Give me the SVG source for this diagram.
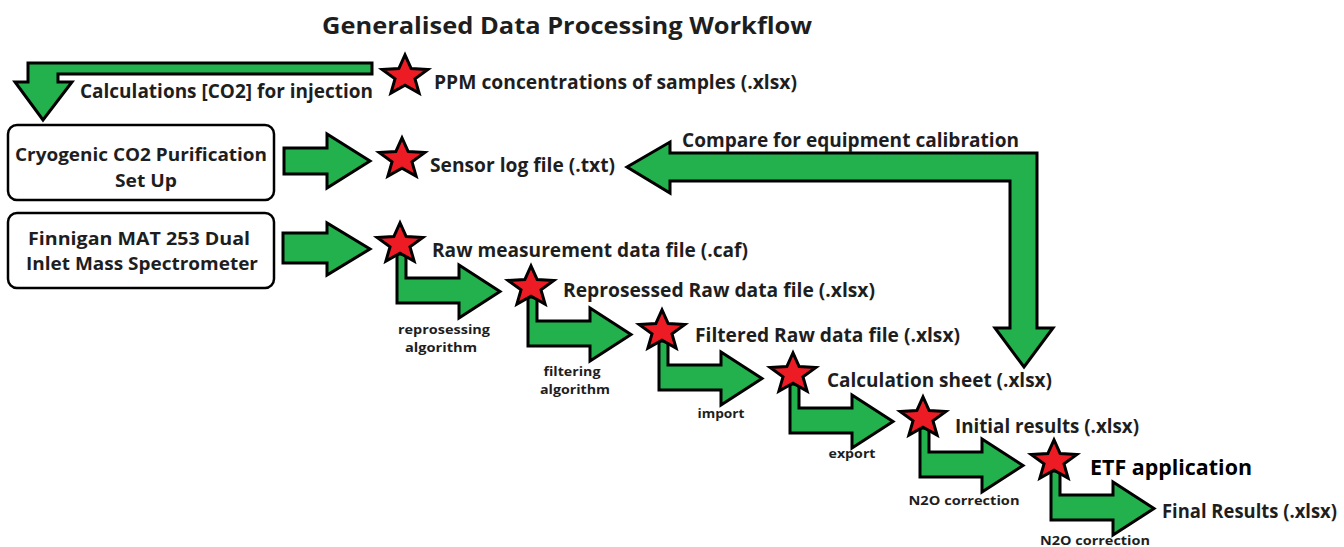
<svg xmlns="http://www.w3.org/2000/svg" xmlns:xlink="http://www.w3.org/1999/xlink" width="1344" height="547" viewBox="0 0 1344 547">
<style>
text{font-family:"Open Sans","Noto Sans","Liberation Sans",sans-serif;font-weight:bold;fill:#1e1e1e}
.title{font-size:23px}
.lbl{font-size:19px}
.box{font-size:18.5px}
.sm{font-size:12.5px}
.etf{font-size:20.5px;fill:#000}
.arr{fill:#22b14c;stroke:#000;stroke-width:3;stroke-linejoin:miter}
.star{fill:#ed1c24;stroke:#000;stroke-width:3;stroke-linejoin:miter}
.nodebox{fill:#fff;stroke:#000;stroke-width:2.5}
</style>
<defs>
<path id="star" class="star" d="M0,-21.1 L6.17,-7.47 L22.83,-6.53 L9.99,2.85 L14.11,17.09 L0,9.24 L-14.11,17.09 L-9.99,2.85 L-22.83,-6.53 L-6.17,-7.47 Z"/>
</defs>
<rect width="1344" height="547" fill="#fff"/>
<text class="title" x="322" y="34" textLength="490" lengthAdjust="spacingAndGlyphs">Generalised Data Processing Workflow</text>

<g id="connectors">
<path class="arr" d="M372,63 H28 V82 H15 L43,120 L72,82 H58 V74 H372 Z"/>
<path class="arr" d="M284,148 H327 V134 L370,161 L327,188 V174 H284 Z"/>
<path class="arr" d="M283,233 H327 V223 L370,249 L327,275 V263 H283 Z"/>
<path class="arr" d="M397,254 V303 H459 V318 L500,291.5 L459,265 V278 H406 V254 Z"/>
<path class="arr" d="M528,297 V346 H590 V361 L631,334.5 L590,308 V321 H537 V297 Z"/>
<path class="arr" d="M659,341 V390 H721 V405 L762,378.5 L721,352 V365 H668 V341 Z"/>
<path class="arr" d="M790,384 V433 H852 V448 L893,421.5 L852,395 V408 H799 V384 Z"/>
<path class="arr" d="M920,428 V477 H982 V492 L1023,465.5 L982,439 V452 H929 V428 Z"/>
<path class="arr" d="M1051,471 V520 H1113 V535 L1154,508.5 L1113,482 V495 H1060 V471 Z"/>
<path class="arr" d="M627,167 L670,142 V153 H1037 V328 H1053 L1024,367 L995,328 H1010 V181 H670 V193 Z"/>
<text class="lbl" x="80" y="98" textLength="293" lengthAdjust="spacingAndGlyphs">Calculations [CO2] for injection</text>
<text class="lbl" x="682" y="147" textLength="337" lengthAdjust="spacingAndGlyphs">Compare for equipment calibration</text>
<text class="sm" x="444" y="334" text-anchor="middle" textLength="92" lengthAdjust="spacingAndGlyphs">reprosessing</text>
<text class="sm" x="441" y="352" text-anchor="middle" textLength="72" lengthAdjust="spacingAndGlyphs">algorithm</text>
<text class="sm" x="572" y="376" text-anchor="middle" textLength="57" lengthAdjust="spacingAndGlyphs">filtering</text>
<text class="sm" x="575" y="394" text-anchor="middle" textLength="70" lengthAdjust="spacingAndGlyphs">algorithm</text>
<text class="sm" x="721" y="418" text-anchor="middle" textLength="47" lengthAdjust="spacingAndGlyphs">import</text>
<text class="sm" x="852" y="458" text-anchor="middle" textLength="47" lengthAdjust="spacingAndGlyphs">export</text>
<text class="sm" x="964" y="505" text-anchor="middle" textLength="111" lengthAdjust="spacingAndGlyphs">N2O correction</text>
<text class="sm" x="1095" y="545" text-anchor="middle" textLength="110" lengthAdjust="spacingAndGlyphs">N2O correction</text>
</g>

<g id="node-cryo">
<rect class="nodebox" x="8" y="125" width="266" height="75" rx="9"/>
<text class="box" x="141" y="161" text-anchor="middle" textLength="252" lengthAdjust="spacingAndGlyphs">Cryogenic CO2 Purification</text>
<text class="box" x="146" y="187" text-anchor="middle" textLength="62" lengthAdjust="spacingAndGlyphs">Set Up</text>
</g>
<g id="node-finnigan">
<rect class="nodebox" x="8" y="213" width="266" height="75" rx="9"/>
<text class="box" x="139" y="245" text-anchor="middle" textLength="222" lengthAdjust="spacingAndGlyphs">Finnigan MAT 253 Dual</text>
<text class="box" x="142" y="270" text-anchor="middle" textLength="232" lengthAdjust="spacingAndGlyphs">Inlet Mass Spectrometer</text>
</g>
<g id="node-ppm">
<use xlink:href="#star" href="#star" transform="translate(405,76)"/>
<text class="lbl" x="434" y="89" textLength="363" lengthAdjust="spacingAndGlyphs">PPM concentrations of samples (.xlsx)</text>
</g>
<g id="node-sensor">
<use xlink:href="#star" href="#star" transform="translate(402,159)"/>
<text class="lbl" x="430" y="172" textLength="185" lengthAdjust="spacingAndGlyphs">Sensor log file (.txt)</text>
</g>
<g id="node-raw">
<use xlink:href="#star" href="#star" transform="translate(400,244)"/>
<text class="lbl" x="432" y="257" textLength="316" lengthAdjust="spacingAndGlyphs">Raw measurement data file (.caf)</text>
</g>
<g id="node-reprocessed">
<use xlink:href="#star" href="#star" transform="translate(531,287)"/>
<text class="lbl" x="563" y="297" textLength="312" lengthAdjust="spacingAndGlyphs">Reprosessed Raw data file (.xlsx)</text>
</g>
<g id="node-filtered">
<use xlink:href="#star" href="#star" transform="translate(662,331)"/>
<text class="lbl" x="695" y="342" textLength="265" lengthAdjust="spacingAndGlyphs">Filtered Raw data file (.xlsx)</text>
</g>
<g id="node-calc">
<use xlink:href="#star" href="#star" transform="translate(793,374)"/>
<text class="lbl" x="827" y="387" textLength="225" lengthAdjust="spacingAndGlyphs">Calculation sheet (.xlsx)</text>
</g>
<g id="node-initial">
<use xlink:href="#star" href="#star" transform="translate(923,418)"/>
<text class="lbl" x="955" y="433" textLength="184" lengthAdjust="spacingAndGlyphs">Initial results (.xlsx)</text>
</g>
<g id="node-etf">
<use xlink:href="#star" href="#star" transform="translate(1054,461)"/>
<text class="etf" x="1090" y="475" textLength="162" lengthAdjust="spacingAndGlyphs">ETF application</text>
</g>
<g id="node-final">
<text class="lbl" x="1162" y="518" textLength="175" lengthAdjust="spacingAndGlyphs">Final Results (.xlsx)</text>
</g>
</svg>
